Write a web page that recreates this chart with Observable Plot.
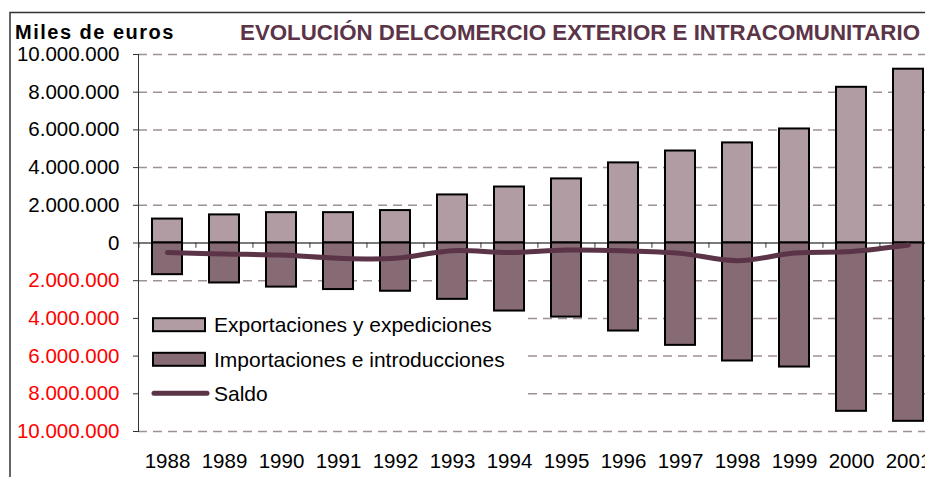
<!DOCTYPE html>
<html>
<head>
<meta charset="utf-8">
<script src="https://cdn.jsdelivr.net/npm/d3@7"></script>
<script src="https://cdn.jsdelivr.net/npm/@observablehq/plot@0.6"></script>
<style>
  html, body { margin: 0; padding: 0; background: #fff; overflow: hidden; width: 925px; height: 477px; }
  #chart { width: 960px; }
  #chart svg { display: block; max-width: none !important; font-family: "Liberation Sans", Arial, sans-serif; }
</style>
</head>
<body>
<div id="chart"></div>
<script>
// ---- Data (miles de euros) ----
const years = ["1988","1989","1990","1991","1992","1993","1994","1995","1996","1997","1998","1999","2000","2001"];
const exportaciones = [1270000, 1490000, 1610000, 1610000, 1720000, 2550000, 2970000, 3400000, 4250000, 4880000, 5310000, 6050000, 8260000, 9220000];
const importaciones = [1680000, 2120000, 2340000, 2470000, 2560000, 2990000, 3610000, 3930000, 4670000, 5430000, 6260000, 6580000, 8930000, 9460000];
const saldo = [-510000, -580000, -640000, -810000, -810000, -410000, -510000, -370000, -410000, -550000, -940000, -530000, -450000, -110000];
const yTicks = [-10000000, -8000000, -6000000, -4000000, -2000000, 0, 2000000, 4000000, 6000000, 8000000, 10000000];
const gridTicks = yTicks.filter(d => d !== 0);
const seriesNames = ["Exportaciones y expediciones", "Importaciones e introducciones", "Saldo"];
const titleText = "EVOLUCIÓN DELCOMERCIO EXTERIOR E INTRACOMUNITARIO";
const unitText = "Miles de euros";

const colExp = "#b09ca2";
const colImp = "#866a74";
const colSaldo = "#5b3448";
const colGrid = "#9e9098";

const expData = years.map((y, i) => ({year: y, value: exportaciones[i]}));
const impData = years.map((y, i) => ({year: y, value: -importaciones[i]}));
const saldoData = years.map((y, i) => ({year: y, value: saldo[i]}));

const fmt = d => d3.format(",")(Math.abs(d)).replace(/,/g, ".");

const W = 960, H = 477;
const mL = 138, mR = 22, mT = 54, mB = 46;
const step = (W - mL - mR) / years.length;

const chart = Plot.plot({
  width: W,
  height: H,
  marginLeft: mL,
  marginRight: mR,
  marginTop: mT,
  marginBottom: mB,
  style: {fontFamily: "Liberation Sans, Arial, sans-serif", background: "#fff", maxWidth: "none"},
  x: {domain: years, paddingInner: 0.47, paddingOuter: 0.235, axis: null},
  y: {domain: [-10000000, 10000000], axis: null},
  marks: [
    Plot.ruleY(gridTicks, {stroke: colGrid, strokeWidth: 1.5, strokeDasharray: "9,6"}),
    Plot.ruleY([0], {stroke: "#7a7a7a", strokeWidth: 2}),
    Plot.ruleX(years, {x: d => d, y1: 0, y2: -280000, dx: -step / 2, stroke: "#333", strokeWidth: 1}),
    Plot.barY(expData, {x: "year", y: "value", fill: colExp, stroke: "#000", strokeWidth: 2}),
    Plot.barY(impData, {x: "year", y: "value", fill: colImp, stroke: "#000", strokeWidth: 2}),
    Plot.line(saldoData, {x: "year", y: "value", stroke: colSaldo, strokeWidth: 5, curve: "catmull-rom", strokeLinecap: "round"}),
    Plot.frame({anchor: "left", stroke: "#333", strokeWidth: 1}),
    Plot.axisY({ticks: yTicks, tickSize: 5, tickFormat: () => "", stroke: "#333", label: null}),
    Plot.text(yTicks, {y: d => d, text: fmt, frameAnchor: "left", textAnchor: "end", dx: -19,
      fill: d => d < 0 ? "#ff0000" : "#000", fontSize: 20.5}),
    Plot.text(years, {x: d => d, text: d => d, frameAnchor: "bottom", dy: 36, fill: "#000", fontSize: 20.5})
  ]
});

document.getElementById("chart").appendChild(chart);

// ---- Overlays: border, titles, legend ----
const svg = d3.select(chart);
svg.insert("rect", ":first-child")
  .attr("x", 10).attr("y", 12.5).attr("width", 1000).attr("height", 600)
  .attr("fill", "none").attr("stroke", "#333").attr("stroke-width", 1.5);

svg.append("text")
  .attr("x", 15).attr("y", 39).attr("text-anchor", "start")
  .attr("font-size", 20).attr("font-weight", "bold").attr("letter-spacing", "1.5px")
  .attr("fill", "#000")
  .text(unitText);

svg.append("text")
  .attr("x", 240).attr("y", 40).attr("text-anchor", "start")
  .attr("font-size", 22.5).attr("font-weight", "bold")
  .attr("textLength", 680).attr("lengthAdjust", "spacingAndGlyphs")
  .attr("fill", colSaldo)
  .text(titleText);

// legend background sits above the gridlines but below the bars
const ruleGroups = chart.querySelectorAll('g[aria-label="rule"]');
const bg = document.createElementNS("http://www.w3.org/2000/svg", "rect");
bg.setAttribute("x", 139); bg.setAttribute("y", 303);
bg.setAttribute("width", 383); bg.setAttribute("height", 108);
bg.setAttribute("fill", "#fff");
if (ruleGroups.length > 1) {
  ruleGroups[1].parentNode.insertBefore(bg, ruleGroups[1]);
} else {
  chart.appendChild(bg);
}

const lg = svg.append("g").attr("text-anchor", "start");
const rowsY = [324.7, 359.3, 393.3];
seriesNames.forEach((name, i) => {
  const cy = rowsY[i];
  if (i < 2) {
    lg.append("rect").attr("x", 153).attr("y", cy - 6.5).attr("width", 52).attr("height", 13)
      .attr("fill", i === 0 ? colExp : colImp).attr("stroke", "#000").attr("stroke-width", 2);
  } else {
    lg.append("line").attr("x1", 154).attr("x2", 207).attr("y1", cy).attr("y2", cy)
      .attr("stroke", colSaldo).attr("stroke-width", 5).attr("stroke-linecap", "round");
  }
  lg.append("text").attr("x", 214).attr("y", cy).attr("dy", "0.36em")
    .attr("font-size", 21).attr("fill", "#000").text(name);
});
</script>
</body>
</html>
